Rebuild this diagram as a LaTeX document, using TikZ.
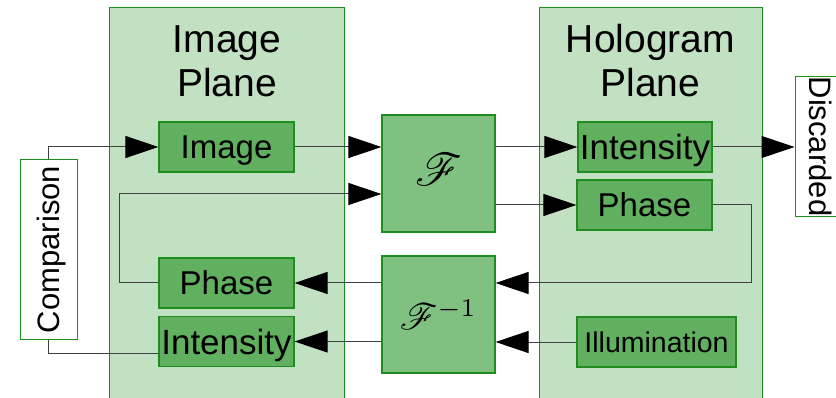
\documentclass[tikz,border=0pt]{standalone}
\usepackage{fontspec}
\setmainfont{Liberation Sans}
\usepackage{mathrsfs}
\usepackage{graphicx}
\usetikzlibrary{arrows.meta}
\definecolor{planefill}{RGB}{194,224,194}
\definecolor{boxfill}{RGB}{96,176,96}
\definecolor{ffill}{RGB}{128,192,128}
\definecolor{edge}{RGB}{30,140,30}
\begin{document}
\begin{tikzpicture}[x=1pt,y=-1pt,
  plane/.style={draw=edge, fill=planefill, line width=1pt, inner sep=0pt},
  title/.style={font=\fontsize{39}{44}\selectfont, align=center, inner sep=0pt},
  blk/.style={draw=edge, fill=boxfill, line width=1.2pt, inner sep=0pt,
    font=\fontsize{33}{36}\selectfont, text height=24pt, text depth=0pt},
  fblk/.style={draw=edge, fill=ffill, line width=1.2pt, inner sep=0pt,
    minimum width=113pt, minimum height=117pt},
  side/.style={draw=edge, fill=white, line width=1pt, inner sep=0pt,
    font=\fontsize{31}{34}\selectfont, text height=22pt, text depth=0pt},
  conn/.style={line width=1pt, draw=black!75},
  arr/.style={conn, -{Triangle[length=33pt,width=22pt,color=black]}}
]
\useasboundingbox (0,0) rectangle (836,398);
% planes
\node[plane, minimum width=235pt, minimum height=395pt, anchor=north west] (ip) at (109,7) {};
\node[plane, minimum width=223pt, minimum height=395pt, anchor=north west] (hp) at (539,7) {};
\node[title] (ipt) at (227,61) {Image\\Plane};
\node[title] (hpt) at (650.5,61) {Hologram\\Plane};
% side boxes
\node[side, rotate=90, minimum width=179pt, minimum height=57pt] (cmp) at (48.5,249.5) {Comparison};
\node[side, rotate=-90, minimum width=133pt, minimum height=50pt] (dis) at (820,146.5) {Discarded};
% image plane blocks
\node[blk, minimum width=135pt, minimum height=50pt] (img) at (226.5,147) {Image};
\node[blk, minimum width=135pt, minimum height=50pt] (iph) at (226.5,283) {Phase};
\node[blk, minimum width=135pt, minimum height=50pt, font=\fontsize{35}{38}\selectfont, text height=25pt] (iint) at (226.5,341.5) {Intensity};
% transforms
\node[fblk] (F) at (438.5,173.5) {\raisebox{8pt}{\resizebox{47pt}{!}{$\mathscr{F}$}}};
\node[fblk] (Finv) at (438.5,314.5) {\resizebox{77pt}{!}{$\mathscr{F}^{-1}$}};
% hologram plane blocks
\node[blk, minimum width=134pt, minimum height=50pt, font=\fontsize{35}{38}\selectfont, text height=25pt] (hint) at (645,147) {Intensity};
\node[blk, minimum width=135pt, minimum height=50pt] (hph) at (644.5,205) {Phase};
\node[blk, minimum width=159pt, minimum height=50pt, font=\fontsize{28.5}{32}\selectfont, text height=20.5pt] (ill) at (656.5,342) {Illumination};
% connectors
\draw[arr] (cmp.east) |- (img.west);
\draw[arr] (img.east) -- (img.east -| F.west);
\draw[arr] (F.east |- hint.west) -- (hint.west);
\draw[arr] (F.east |- hph.west) -- (hph.west);
\draw[arr] (hint.east) -- (hint.east -| dis.south);
\draw[arr] (hph.east) -- ++(39,0) |- (Finv.east |- iph.east);
\draw[arr] (Finv.west |- iph.east) -- (iph.east);
\draw[arr] (iph.west) -- ++(-39,0) |- ([yshift=-20.5pt]F.west);
\draw[arr] (ill.west) -- (ill.west -| Finv.east);
\draw[arr] (Finv.west |- iint.east) -- (iint.east);
\draw[conn] ([yshift=-11.5pt]iint.west) -| (cmp.west);
\end{tikzpicture}
\end{document}
